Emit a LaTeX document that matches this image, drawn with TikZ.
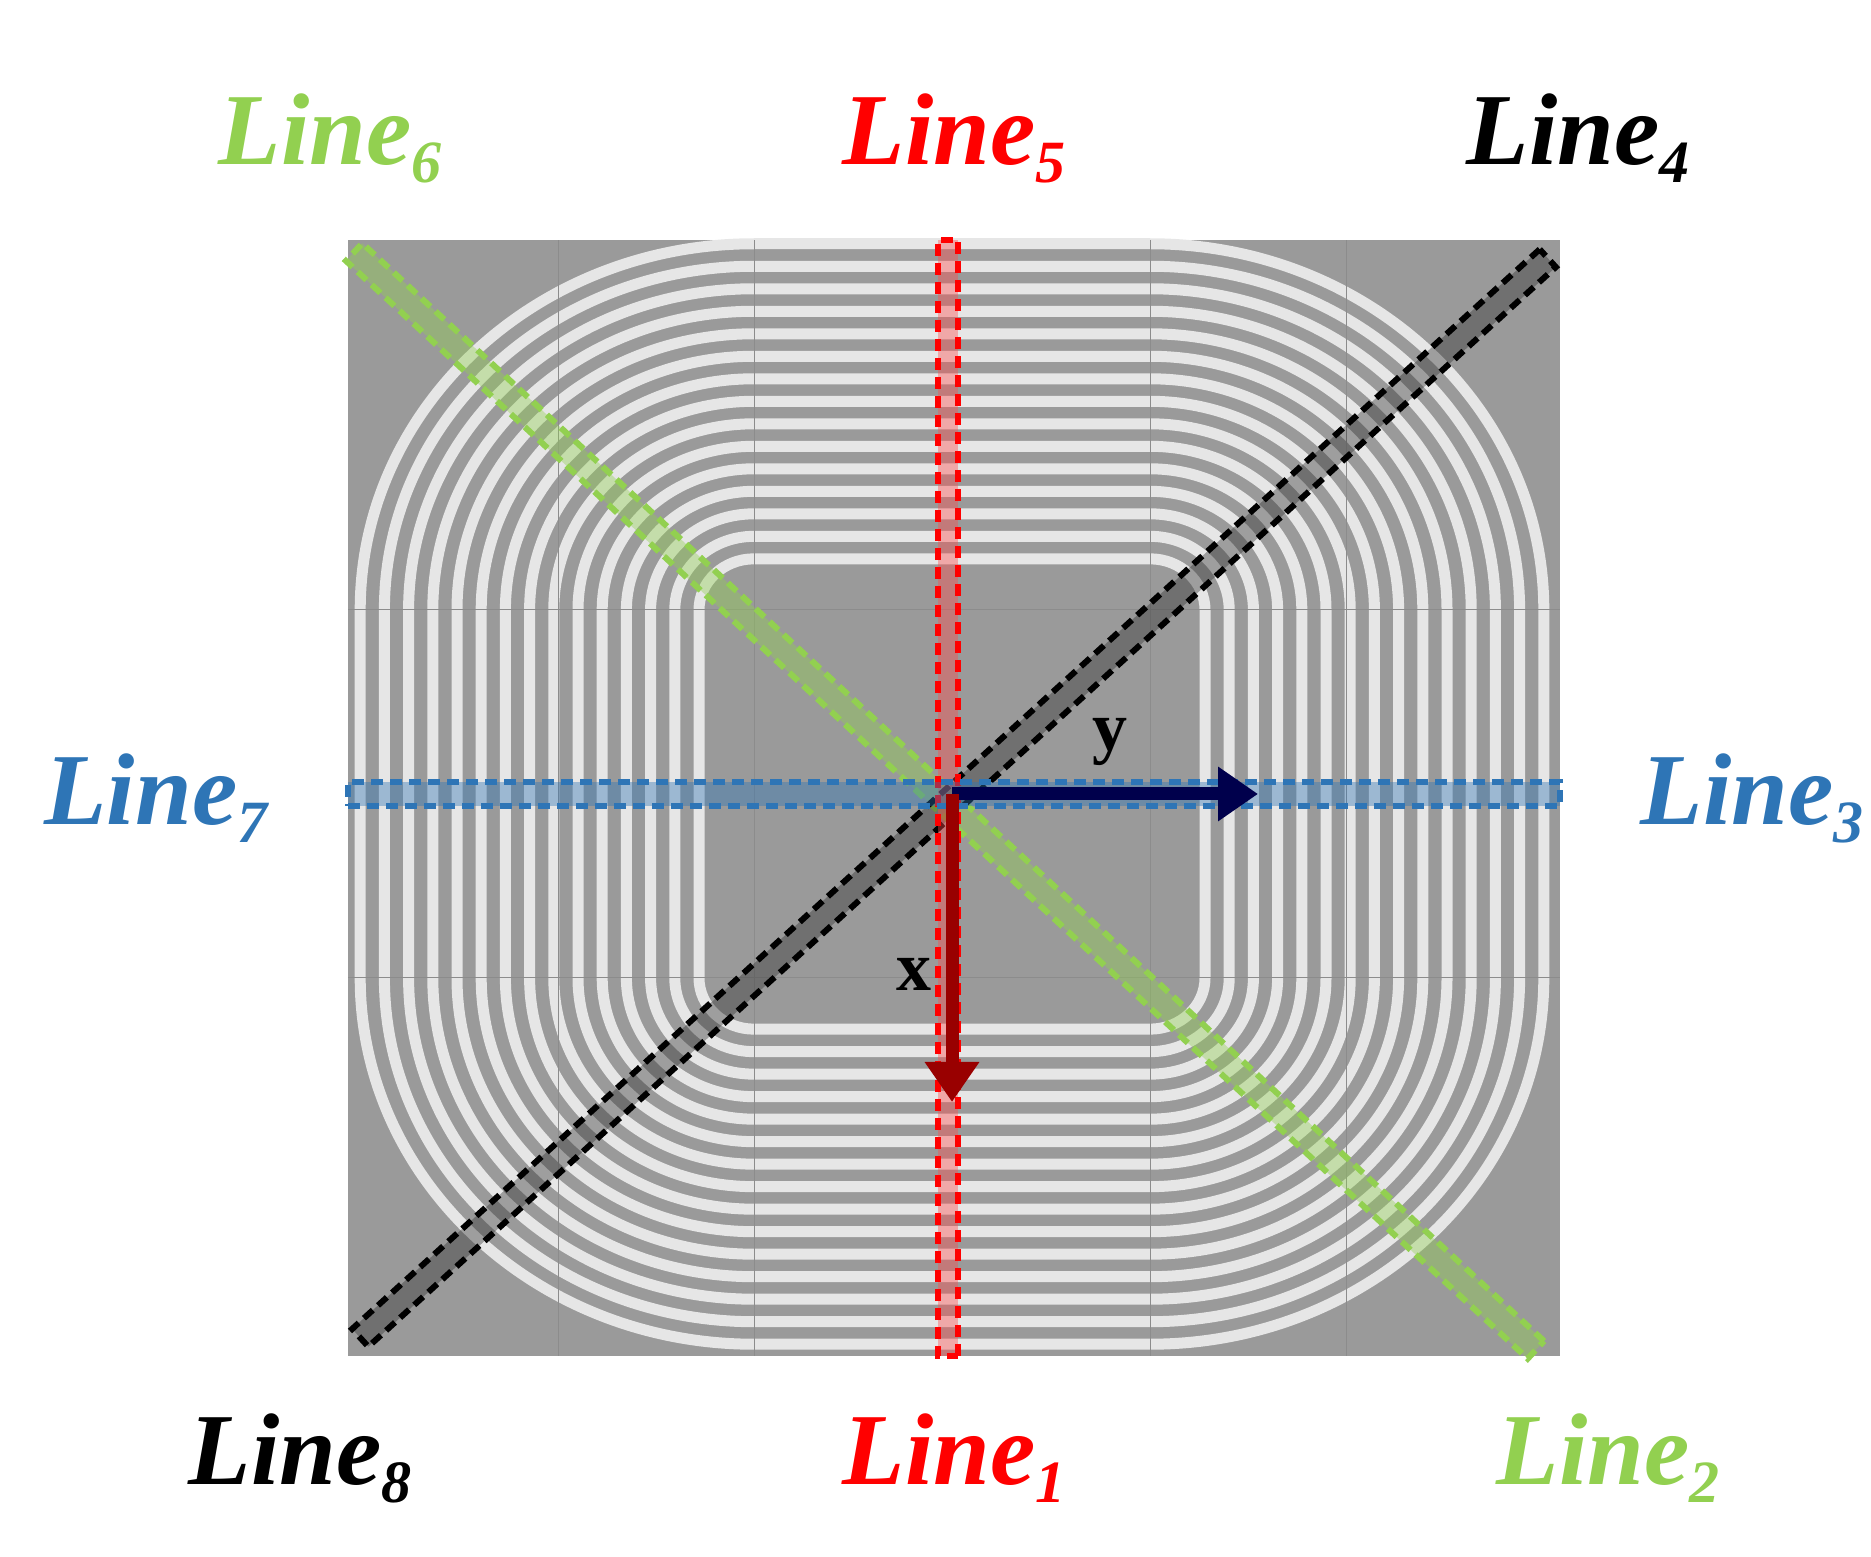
\documentclass[tikz,border=0pt]{standalone}
\usepackage{fontspec}
\setmainfont{Liberation Serif}
\usetikzlibrary{arrows.meta}
\definecolor{lgreen}{HTML}{92D050}
\definecolor{lblue}{HTML}{2E75B6}
\definecolor{coilbg}{HTML}{9A9A9A}
\definecolor{stripe}{HTML}{E6E6E6}
\newcommand{\lbl}[2]{\fontsize{102}{102}\selectfont\bfseries\itshape Line\raisebox{-18pt}{\fontsize{60}{60}\selectfont #2}}
\begin{document}
\begin{tikzpicture}[x=1pt,y=1pt,
  band/.style={draw, line width=6pt, dash pattern=on 12pt off 7pt, minimum height=24pt, inner sep=0pt, fill opacity=0.4},
  lab/.style={inner sep=0pt, anchor=center},
  turn/.style={draw=stripe, line width=11pt}]
\useasboundingbox (0,0) rectangle (1871,1557);
\fill[coilbg] (348,201) rectangle (1560,1317);
\foreach \i in {0,...,14}{
  \pgfmathsetmacro{\rx}{55+24.2*\i}
  \pgfmathsetmacro{\ry}{\rx*0.93}
  \draw[turn] (754,947+\ry) -- (1150,947+\ry) arc[start angle=90,end angle=0,x radius=\rx,y radius=\ry]
    -- (1150+\rx,579) arc[start angle=0,end angle=-90,x radius=\rx,y radius=\ry]
    -- (754,579-\ry) arc[start angle=-90,end angle=-180,x radius=\rx,y radius=\ry]
    -- (754-\rx,947) arc[start angle=180,end angle=90,x radius=\rx,y radius=\ry] -- cycle;
}
\foreach \xx in {558,754,1150,1346} \draw[black!45, line width=1pt] (\xx,201) -- (\xx,1317);
\foreach \yy in {947,579} \draw[black!45, line width=1pt] (348,\yy) -- (1560,\yy);
\fill[white] (0,0) rectangle (1871,201);
\coordinate (c) at (952,763);
\coordinate (gA) at (354,1305); \coordinate (gB) at (1536,207);
\coordinate (kA) at (360,219); \coordinate (kB) at (1548,1299);
\coordinate (rA) at (948,1317); \coordinate (rB) at (948,201);
\coordinate (bA) at (348,763); \coordinate (bB) at (1560,763);
\path (gA) -- node[band, sloped, draw=lgreen, fill=lgreen, minimum width=1613pt] (gband) {} (gB);
\path (kA) -- node[band, sloped, draw=black, fill=black!80, minimum width=1605pt] (kband) {} (kB);
\path (rA) -- node[band, sloped, draw=red, fill=red!70, minimum width=1116pt, minimum height=20pt] (rband) {} (rB);
\path (bA) -- node[band, sloped, draw=lblue, fill=lblue, minimum width=1212pt] (bband) {} (bB);
\coordinate (yend) at (1258,763);
\coordinate (xend) at (952,455);
\draw[line width=13pt, draw=black!70!blue, -{Triangle[length=40pt,width=52pt]}] (c) -- (yend);
\draw[line width=13pt, draw=black!40!red, -{Triangle[length=40pt,width=52pt]}] (c) -- (xend);
\node[lab] (ylab) at (1110,815) {\fontsize{70}{70}\selectfont\bfseries y};
\node[lab] (xlab) at (914,583) {\fontsize{70}{70}\selectfont\bfseries x};
\node[lab, text=lgreen] (l6) at (330,1419) {\lbl{}{6}};
\node[lab, text=red] (l5) at (954,1419) {\lbl{}{5}};
\node[lab, text=black] (l4) at (1578,1419) {\lbl{}{4}};
\node[lab, text=lblue] (l7) at (156,759) {\lbl{}{7}};
\node[lab, text=lblue] (l3) at (1752,759) {\lbl{}{3}};
\node[lab, text=black] (l8) at (300,99) {\lbl{}{8}};
\node[lab, text=red] (l1) at (954,99) {\lbl{}{1}};
\node[lab, text=lgreen] (l2) at (1608,99) {\lbl{}{2}};
\end{tikzpicture}
\end{document}
